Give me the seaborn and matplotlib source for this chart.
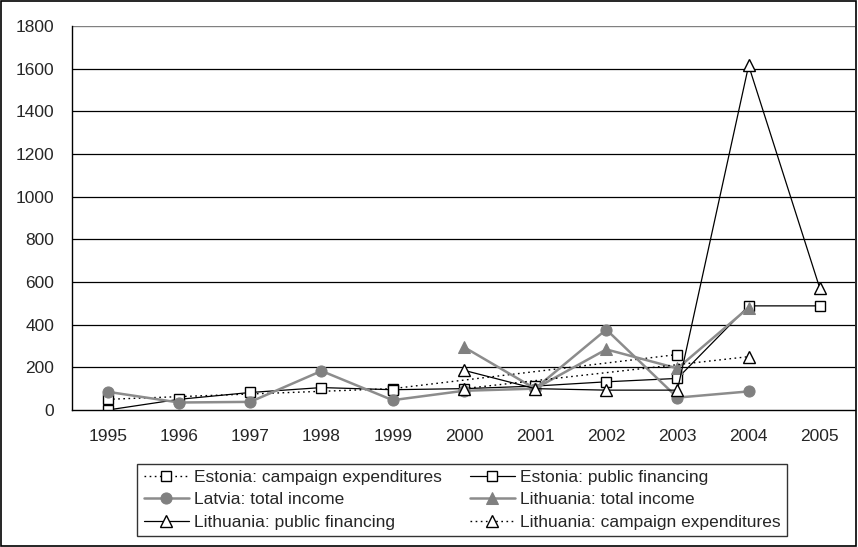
import numpy as np
import pandas as pd
import seaborn as sns
import matplotlib.pyplot as plt
from matplotlib.patches import Rectangle

# data
years = [1995, 1996, 1997, 1998, 1999, 2000, 2001, 2002, 2003, 2004, 2005]
nan = np.nan
estonia_campaign = [50, nan, nan, nan, 100, nan, nan, nan, 260, nan, nan]
estonia_public = [0, 50, 82, 105, 95, 100, 112, 132, 148, 488, 488]
latvia_total = [85, 35, 38, 183, 46, 90, 100, 377, 58, 87, nan]
lithuania_total = [nan, nan, nan, nan, nan, 295, 100, 284, 195, 480, nan]
lithuania_public = [nan, nan, nan, nan, nan, 186, 100, 93, 93, 1615, 570]
lithuania_campaign = [nan, nan, nan, nan, nan, 100, nan, nan, nan, 250, nan]
y_ticks = [0, 200, 400, 600, 800, 1000, 1200, 1400, 1600, 1800]

sns.set_style("white")
plt.rcParams["font.family"] = ["Liberation Sans", "DejaVu Sans"]
plt.rcParams["font.size"] = 12.5

fig = plt.figure(figsize=(8.58, 5.47), dpi=100)
ax = fig.add_axes([0.0843, 0.2505, 0.9127, 0.702])

dotted = (0, (1.2, 2.5))
series = [
    ("Estonia: campaign expenditures", estonia_campaign,
     dict(color="black", lw=1, ls=dotted, marker="s", ms=7.5, mfc="white", mec="black", mew=1)),
    ("Estonia: public financing", estonia_public,
     dict(color="black", lw=0.9, ls="-", marker="s", ms=7.5, mfc="white", mec="black", mew=1)),
    ("Latvia: total income", latvia_total,
     dict(color="#8c8c8c", lw=1.8, ls="-", marker="o", ms=8, mfc="#808080", mec="#808080")),
    ("Lithuania: total income", lithuania_total,
     dict(color="#8c8c8c", lw=1.8, ls="-", marker="^", ms=8.5, mfc="#808080", mec="#808080")),
    ("Lithuania: public financing", lithuania_public,
     dict(color="black", lw=0.9, ls="-", marker="^", ms=8.5, mfc="white", mec="black", mew=1)),
    ("Lithuania: campaign expenditures", lithuania_campaign,
     dict(color="black", lw=1, ls=dotted, marker="^", ms=8.5, mfc="white", mec="black", mew=1)),
]

handles = {}
for name, vals, style in series:
    df = pd.DataFrame({"x": np.arange(len(years)), "y": vals}).dropna()
    color = style.pop("color")
    ls = style.pop("ls")
    lw = style.pop("lw")
    sns.lineplot(data=df, x="x", y="y", ax=ax, color=color, linestyle=ls,
                 linewidth=lw, label=name, **style)
    handles[name] = ax.get_lines()[-1]

ax.set_xlim(-0.5, len(years) - 0.5)
ax.set_ylim(0, 1800)
ax.set_yticks(y_ticks)
ax.set_yticklabels([str(v) for v in y_ticks])
ax.set_xticks(np.arange(-0.5, len(years), 1.0))
ax.set_xticklabels([])
ax.set_xticks(np.arange(len(years)), minor=True)
ax.set_xticklabels([str(y) for y in years], minor=True)
ax.tick_params(axis="x", which="major", direction="out", length=5, width=1, color="black")
ax.tick_params(axis="x", which="minor", length=0, pad=14, labelsize=12.5)
ax.tick_params(axis="y", direction="out", length=5, width=1, color="black", pad=8, labelsize=12.5)
ax.set_xlabel("")
ax.set_ylabel("")

for v in y_ticks[1:-1]:
    ax.axhline(v, color="black", lw=0.9, zorder=0)
ax.axhline(1800, color="#808080", lw=1, zorder=0)

for side in ["top", "right"]:
    ax.spines[side].set_visible(False)
for side in ["left", "bottom"]:
    ax.spines[side].set_color("black")
    ax.spines[side].set_linewidth(1)

order = ["Estonia: campaign expenditures", "Latvia: total income", "Lithuania: public financing",
         "Estonia: public financing", "Lithuania: total income", "Lithuania: campaign expenditures"]
ax.get_legend().remove()
leg = fig.legend([handles[n] for n in order], order, ncol=2, loc="center",
                 bbox_to_anchor=(0.5385, 0.0865), frameon=True, fancybox=False,
                 edgecolor="black", fontsize=12.5, handlelength=2.6, handletextpad=0.3,
                 columnspacing=1.6, labelspacing=0.42, borderpad=0.35, borderaxespad=0)
leg.get_frame().set_linewidth(1)

fig.patches.append(Rectangle((0.001, 0.001), 0.997, 0.997, transform=fig.transFigure,
                             fill=False, edgecolor="black", lw=1.2))

fig.savefig("out.png", dpi=100)
